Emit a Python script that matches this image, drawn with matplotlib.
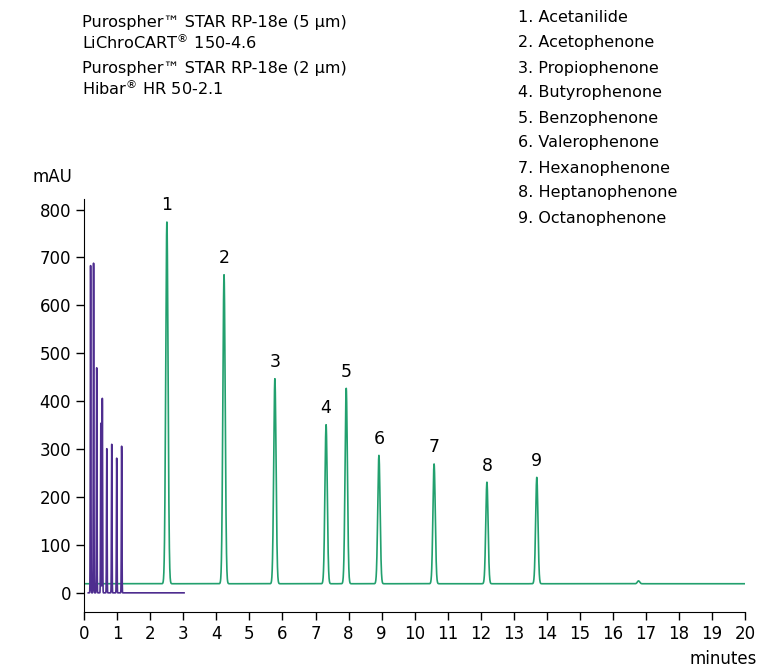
import numpy as np
import matplotlib
matplotlib.use("Agg")
import matplotlib.pyplot as plt

# peak table, 5 µm column (green) and 2 µm column (purple)
green_rt = [2.50, 4.23, 5.77, 7.32, 7.93, 8.92, 10.59, 12.19, 13.70, 16.78]
green_h = [755, 645, 428, 332, 408, 268, 250, 212, 222, 6]
green_base = 19
green_end = 20.0

purple_rt = [0.19, 0.28, 0.375, 0.50, 0.545, 0.68, 0.83, 0.98, 1.13]
purple_h = [683, 688, 470, 354, 406, 301, 310, 281, 306]
purple_start, purple_end = 0.12, 3.02

peak_labels = ["1", "2", "3", "4", "5", "6", "7", "8", "9"]
compounds = ["Acetanilide", "Acetophenone", "Propiophenone", "Butyrophenone",
             "Benzophenone", "Valerophenone", "Hexanophenone", "Heptanophenone",
             "Octanophenone"]

C_GREEN = "#22a06e"
C_PURPLE = "#4e2d8f"


def trace(t, rts, hs, sigma, base):
    y = np.full_like(t, base, dtype=float)
    for rt, h in zip(rts, hs):
        y += h * np.exp(-0.5 * ((t - rt) / sigma) ** 2)
    return y


fig = plt.figure(figsize=(7.61, 6.69), dpi=100)
ax = fig.add_axes([0.1108, 0.0852, 0.868, 0.6173])

tg = np.linspace(0, green_end, 8000)
yg = trace(tg, green_rt, green_h, 0.035, green_base)
ax.plot(tg, yg, color=C_GREEN, lw=1.2)

tp = np.linspace(purple_start, purple_end, 6000)
yp = trace(tp, purple_rt, purple_h, 0.008, 0)
ax.plot(tp, yp, color=C_PURPLE, lw=1.2)

for lab, rt, h in zip(peak_labels, green_rt, green_h):
    ax.text(rt, h + green_base + 16, lab, ha="center", va="bottom", fontsize=12.5)

ax.set_xlim(0, 20)
ax.set_ylim(-40, 822)
ax.set_xticks(range(0, 21))
ax.set_yticks(range(0, 801, 100))
ax.tick_params(labelsize=12, length=6, width=1, direction="out")
ax.tick_params(axis="x", pad=3)
for s in ["top", "right"]:
    ax.spines[s].set_visible(False)

fig.text(32 / 761, 1 - 177 / 669, "mAU", fontsize=12, ha="left", va="center")
fig.text(757 / 761, 1 - 659 / 669, "minutes", fontsize=12, ha="right", va="center")

hdr = [("Purospher™ STAR RP-18e (5 µm)", 22), ("LiChroCART$^{®}$ 150-4.6", 42),
       ("Purospher™ STAR RP-18e (2 µm)", 68), ("Hibar$^{®}$ HR 50-2.1", 88)]
for txt, ypx in hdr:
    fig.text(82 / 761, 1 - ypx / 669, txt, fontsize=11.6, ha="left", va="center")

for i, name in enumerate(compounds):
    fig.text(518 / 761, 1 - (18 + 25 * i) / 669, f"{i + 1}. {name}",
             fontsize=11.5, ha="left", va="center")

fig.savefig("out.png", dpi=100)
